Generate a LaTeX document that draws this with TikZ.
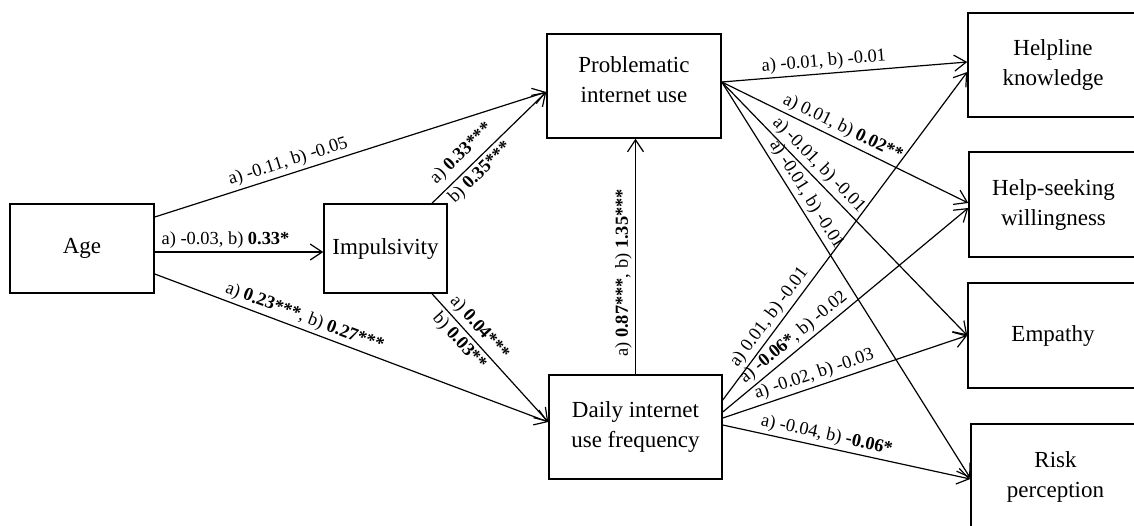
\documentclass[tikz,border=0pt]{standalone}
\usepackage{fontspec}
\setmainfont{Liberation Serif}
\usetikzlibrary{arrows.meta}
\begin{document}
\begin{tikzpicture}[x=0.5pt,y=-0.5pt,
  box/.style={draw, line width=0.75pt, inner sep=0pt, align=center, font=\fontsize{11.5}{15}\selectfont},
  conn/.style={line width=0.6pt, -{Straight Barb[length=6pt,width=8pt,line width=0.6pt]}},
  lbl/.style={font=\fontsize{9.2}{10}\selectfont, sloped, inner sep=1.5pt}]
\useasboundingbox (0,0) rectangle (1134,525);
\node[box, minimum width=72pt, minimum height=44.5pt] (age) at (82,248.5) {Age};
\node[box, minimum width=61.5pt, minimum height=44.5pt] (imp) at (385.5,248.5) {Impulsivity};
\node[box, minimum width=87pt, minimum height=52pt, text depth=6pt] (piu) at (634,86) {Problematic\\internet use};
\node[box, minimum width=86.5pt, minimum height=52pt] (diu) at (635.5,427) {Daily internet\\use frequency};
\node[box, minimum width=85pt, minimum height=52pt] (hk) at (1053,65) {Helpline\\knowledge};
\node[box, minimum width=84.5pt, minimum height=52.5pt] (hs) at (1053.5,204.5) {Help-seeking\\willingness};
\node[box, minimum width=85pt, minimum height=52.5pt] (emp) at (1053,335.5) {Empathy};
\node[box, minimum width=84.5pt, minimum height=53pt] (rp) at (1055.5,477) {Risk\\perception};

\draw[conn] ([yshift=15.75pt]age.east) -- node[lbl,above,pos=0.35]{a) -0.11, b) -0.05} ([yshift=-3pt]piu.west);
\draw[conn] ([yshift=-1.75pt]age.east) -- node[lbl,above,pos=0.42]{a) -0.03, b) \textbf{0.33*}} ([yshift=-1.75pt]imp.west);
\draw[conn] ([yshift=-12.75pt]age.east) -- node[lbl,above,pos=0.37]{a) \textbf{0.23***}, b) \textbf{0.27***}} ([yshift=2.5pt]diu.west);
\draw[conn] ([xshift=23.25pt]imp.north) -- node[lbl,above=1.5pt,pos=0.35]{a) \textbf{0.33***}} node[lbl,below,pos=0.35]{b) \textbf{0.35***}} ([yshift=-3pt]piu.west);
\draw[conn] ([xshift=23.25pt]imp.south) -- node[lbl,above,pos=0.33]{a) \textbf{0.04***}} node[lbl,below,pos=0.31]{b) \textbf{0.03**}} ([yshift=2.5pt]diu.west);
\draw[conn] (diu.north) -- node[lbl,above,pos=0.43]{a) \textbf{0.87***}, b) \textbf{1.35***}} (diu.north |- piu.south);

\draw[conn] ([yshift=2pt]piu.east) -- node[lbl,above,pos=0.42]{a) -0.01, b) -0.01} ([yshift=1.5pt]hk.west);
\draw[conn] ([yshift=2pt]piu.east) -- node[lbl,above,pos=0.47]{a) 0.01, b) \textbf{0.02**}} ([yshift=0.75pt]hs.west);
\draw[conn] ([yshift=2pt]piu.east) -- node[lbl,above,pos=0.36]{a) -0.01, b) -0.01} (emp.west);
\draw[conn] ([yshift=2pt]piu.east) -- node[lbl,above,pos=0.30]{a) -0.01, b) -0.01} ([yshift=-0.5pt]rp.west);

\draw[conn] ([yshift=13.5pt]diu.east) -- node[lbl,above,pos=0.23]{a) 0.01, b) -0.01} ([yshift=-3.5pt]hk.west);
\draw[conn] ([yshift=7.5pt]diu.east) -- node[lbl,above,pos=0.32]{a) \textbf{-0.06*}, b) -0.02} ([yshift=-1.75pt]hs.west);
\draw[conn] ([yshift=4.5pt]diu.east) -- node[lbl,above,pos=0.39]{a) -0.02, b) -0.03} (emp.west);
\draw[conn] ([yshift=1pt]diu.east) -- node[lbl,above,pos=0.41]{a) -0.04, b) \textbf{-0.06*}} ([yshift=-1pt]rp.west);
\end{tikzpicture}
\end{document}
